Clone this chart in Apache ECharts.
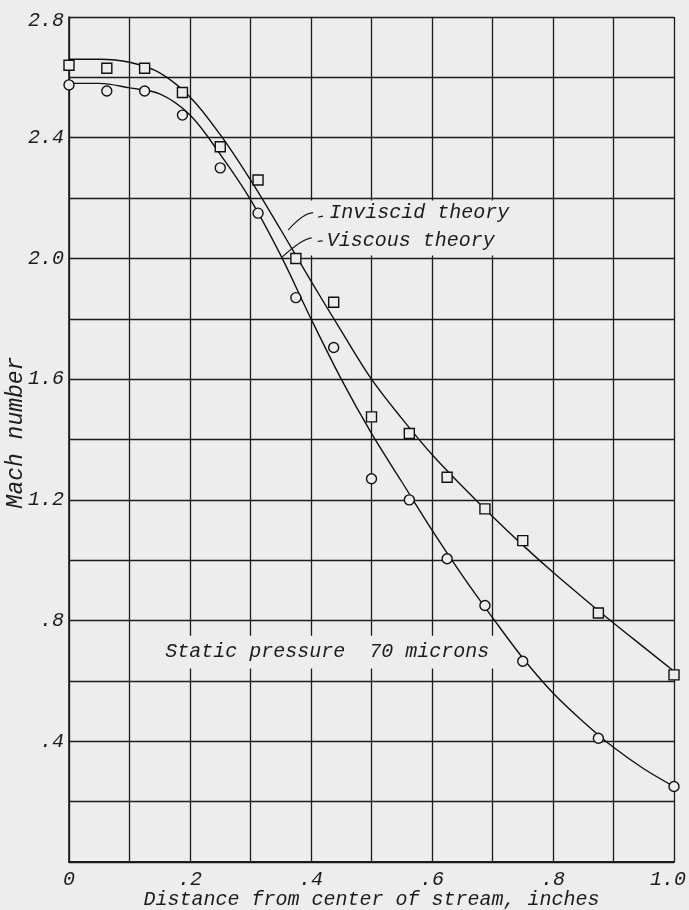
<!DOCTYPE html>
<html lang="en">
<head>
<meta charset="UTF-8">
<title>Mach number across the stream</title>
<style>
  html, body { margin: 0; padding: 0; background: #ededed; }
  #chart { width: 689px; height: 910px; }
</style>
</head>
<body>
<div id="chart"></div>
<script src="https://cdn.jsdelivr.net/npm/echarts@6/dist/echarts.min.js"></script>
<script>
// measured points, distance in inches (1/16 in. steps)
const pointX = [0, 0.0625, 0.125, 0.1875, 0.25, 0.3125, 0.375, 0.4375, 0.5, 0.5625, 0.625, 0.6875, 0.75, 0.875, 1.0];
const squareMach = [2.64, 2.63, 2.63, 2.55, 2.37, 2.26, 2.00, 1.855, 1.475, 1.42, 1.275, 1.17, 1.065, 0.825, 0.62];
const circleMach = [2.575, 2.555, 2.555, 2.475, 2.30, 2.15, 1.87, 1.705, 1.27, 1.20, 1.005, 0.85, 0.665, 0.41, 0.25];

// theory curves
const curveX = [0, 0.05, 0.1, 0.15, 0.2, 0.25, 0.3, 0.35, 0.4, 0.45, 0.5, 0.55, 0.6, 0.65, 0.7, 0.75, 0.8, 0.85, 0.9, 0.95, 1.0];
const inviscid = [2.66, 2.66, 2.65, 2.615, 2.535, 2.41, 2.26, 2.095, 1.925, 1.76, 1.6, 1.47, 1.35, 1.245, 1.145, 1.05, 0.96, 0.875, 0.792, 0.712, 0.632];
const viscous = [2.58, 2.58, 2.565, 2.545, 2.475, 2.345, 2.195, 2.01, 1.80, 1.60, 1.42, 1.26, 1.10, 0.95, 0.81, 0.676, 0.56, 0.465, 0.38, 0.309, 0.25];

// tick labels
const xTickLabels = ['0', '.2', '.4', '.6', '.8', '1.0'];
const yTickLabels = ['.4', '.8', '1.2', '1.6', '2.0', '2.4', '2.8'];

const paper = '#ededed';
const ink = '#1c1c1c';
const font = '"Liberation Mono", monospace';

const pairs = (xs, ys) => xs.map((x, i) => [x, ys[i]]);

const chart = echarts.init(document.getElementById('chart'));

chart.setOption({
    backgroundColor: paper,
    animation: false,
    grid: { left: 69, right: 15, top: 17, bottom: 48, outerBoundsMode: 'none', containLabel: false },
    xAxis: {
        type: 'value',
        min: 0, max: 1, interval: 0.1,
        name: 'Distance from center of stream, inches',
        nameLocation: 'middle',
        nameGap: 28,
        nameMoveOverlap: false,
        nameTextStyle: { color: ink, fontSize: 20, fontStyle: 'italic', fontFamily: font },
        axisLine: { lineStyle: { color: ink, width: 1.8 } },
        axisTick: { show: false },
        axisLabel: {
            color: ink, fontSize: 20, fontStyle: 'italic', fontFamily: font, margin: 8,
            formatter: v => {
                const k = Math.round(v * 10);
                if (k % 2 !== 0) return '';
                return k === 10 ? '{last|' + xTickLabels[5] + '}' : xTickLabels[k / 2];
            },
            rich: { last: { color: ink, fontSize: 20, fontStyle: 'italic', fontFamily: font, padding: [0, 12, 0, 0] } }
        },
        splitLine: { show: true, lineStyle: { color: ink, width: 1.3 } }
    },
    yAxis: {
        type: 'value',
        min: 0, max: 2.8, interval: 0.2,
        name: 'Mach number',
        nameLocation: 'middle',
        nameGap: 42,
        nameMoveOverlap: false,
        nameTextStyle: { color: ink, fontSize: 23, fontStyle: 'italic', fontFamily: font, padding: [0, 0, 0, 14] },
        axisLine: { show: true, lineStyle: { color: ink, width: 1.6 } },
        axisTick: { show: false },
        axisLabel: {
            color: ink, fontSize: 20, fontStyle: 'italic', fontFamily: font, margin: 5,
            formatter: v => {
                const k = Math.round(v * 10);
                if (k === 28) return '{top|' + yTickLabels[6] + '}';
                return (k > 0 && k % 4 === 0) ? yTickLabels[k / 4 - 1] : '';
            },
            rich: { top: { color: ink, fontSize: 20, fontStyle: 'italic', fontFamily: font, padding: [8, 0, 0, 0] } }
        },
        splitLine: { show: true, lineStyle: { color: ink, width: 1.3 } }
    },
    series: [
        {
            name: 'Inviscid theory',
            type: 'line',
            data: pairs(curveX, inviscid),
            smooth: 0.35,
            showSymbol: false,
            lineStyle: { color: '#111', width: 1.4 },
            z: 3
        },
        {
            name: 'Viscous theory',
            type: 'line',
            data: pairs(curveX, viscous),
            smooth: 0.35,
            showSymbol: false,
            lineStyle: { color: '#111', width: 1.4 },
            z: 3
        },
        {
            type: 'scatter',
            data: pairs(pointX, squareMach),
            symbol: 'rect',
            symbolSize: 10,
            itemStyle: { color: paper, borderColor: '#111', borderWidth: 1.4, opacity: 1 },
            z: 4
        },
        {
            type: 'scatter',
            data: pairs(pointX, circleMach),
            symbol: 'circle',
            symbolSize: 10,
            itemStyle: { color: paper, borderColor: '#111', borderWidth: 1.4, opacity: 1 },
            z: 4
        }
    ]
});

// notes and leaders, placed from the grid
const px = (x, y) => chart.convertToPixel({ gridIndex: 0 }, [x, y]);
const noteFont = 'italic 20px ' + font;
const a = px(0.389, 2.192);   // theory labels box
const b = px(0.73, 2.01);
const s1 = px(0.15, 0.75);    // static pressure box
const s2 = px(0.704, 0.641);
const inv = px(0.43, 2.15);
const vis = px(0.426, 2.06);
const sp = px(0.159, 0.698);

chart.setOption({
    graphic: [
        { type: 'rect', z: 10, shape: { x: a[0], y: a[1], width: b[0] - a[0], height: b[1] - a[1] }, style: { fill: paper } },
        { type: 'rect', z: 10, shape: { x: s1[0], y: s1[1], width: s2[0] - s1[0], height: s2[1] - s1[1] }, style: { fill: paper } },
        { type: 'text', z: 11, x: inv[0], y: inv[1], style: { text: 'Inviscid theory', font: noteFont, fill: ink, verticalAlign: 'middle' } },
        { type: 'text', z: 11, x: vis[0], y: vis[1], style: { text: 'Viscous theory', font: noteFont, fill: ink, verticalAlign: 'middle' } },
        { type: 'text', z: 11, x: sp[0], y: sp[1], style: { text: 'Static pressure  70 microns', font: noteFont, fill: ink, verticalAlign: 'middle' } },
        // leaders
        { type: 'line', z: 11, shape: { x1: inv[0] - 11, y1: inv[1] + 4, x2: inv[0] - 6, y2: inv[1] + 3 }, style: { stroke: ink, lineWidth: 1.2 } },
        { type: 'bezierCurve', z: 11, shape: { x1: inv[0] - 16, y1: inv[1] - 0.5, cpx1: inv[0] - 26, cpy1: inv[1], x2: inv[0] - 41, y2: inv[1] + 17 }, style: { stroke: ink, lineWidth: 1.2, fill: null } },
        { type: 'line', z: 11, shape: { x1: vis[0] - 9, y1: vis[1] + 1, x2: vis[0] - 4, y2: vis[1] + 0.5 }, style: { stroke: ink, lineWidth: 1.2 } },
        { type: 'bezierCurve', z: 11, shape: { x1: vis[0] - 15, y1: vis[1] - 2.5, cpx1: vis[0] - 24, cpy1: vis[1] - 2, x2: vis[0] - 45, y2: vis[1] + 17 }, style: { stroke: ink, lineWidth: 1.2, fill: null } }
    ]
});
</script>
</body>
</html>
